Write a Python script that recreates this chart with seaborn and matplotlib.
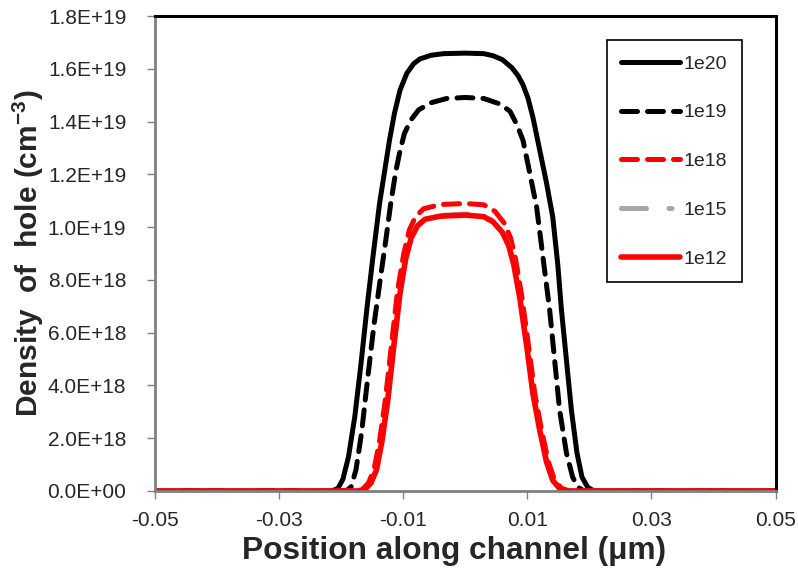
import pandas as pd
import matplotlib
matplotlib.use('Agg')
import matplotlib.pyplot as plt
from matplotlib.ticker import FuncFormatter
import seaborn as sns

sns.set_style('white')
plt.rcParams['font.family'] = ['Liberation Sans', 'DejaVu Sans']
plt.rcParams['mathtext.fontset'] = 'custom'
plt.rcParams['mathtext.rm'] = 'Liberation Sans'
plt.rcParams['mathtext.bf'] = 'Liberation Sans:bold'

# data (y in units of 1e18 cm^-3)
x_1e20 = [-0.05, -0.03, -0.0215, -0.0205, -0.0197, -0.0188, -0.0178, -0.0168, -0.0158, -0.0148,
          -0.0138, -0.013, -0.0122, -0.0114, -0.0105, -0.0094, -0.0083, -0.0073, -0.0055, -0.0035,
          0.0, 0.003, 0.0045, 0.006, 0.0075, 0.0085, 0.0093, 0.0101, 0.0109, 0.012,
          0.0131, 0.0141, 0.0149, 0.0155, 0.0163, 0.0171, 0.018, 0.0188, 0.0197, 0.0205,
          0.022, 0.03, 0.05]
y_1e20 = [0, 0, 0, 0.1, 0.45, 1.3, 2.8, 4.8, 7.0, 9.0,
          10.9, 12.1, 13.3, 14.32, 15.2, 15.84, 16.2, 16.38, 16.52, 16.58,
          16.6, 16.58, 16.5, 16.35, 16.05, 15.75, 15.4, 14.9, 14.17, 12.92,
          11.67, 10.38, 8.6, 6.86, 4.96, 3.07, 1.44, 0.53, 0.15, 0.03,
          0, 0, 0]

x_1e19 = [-0.05, -0.03, -0.0192, -0.0184, -0.0176, -0.0167, -0.0157, -0.0147, -0.0137, -0.0128,
          -0.012, -0.0112, -0.0105, -0.0098, -0.0088, -0.0075, -0.0055, -0.003, 0.0, 0.003,
          0.0055, 0.0072, 0.0083, 0.0093, 0.0104, 0.0115, 0.0125, 0.0136, 0.0144, 0.0152,
          0.0163, 0.0173, 0.0181, 0.019, 0.02, 0.03, 0.05]
y_1e19 = [0, 0, 0, 0.15, 0.8, 2.2, 4.3, 6.3, 8.0, 9.5,
          10.9, 12.1, 12.9, 13.55, 14.05, 14.45, 14.72, 14.88, 14.92, 14.88,
          14.68, 14.4, 13.9, 13.3, 12.05, 10.76, 8.9, 6.86, 4.96, 3.07,
          1.44, 0.53, 0.15, 0.02, 0, 0, 0]

x_1e18 = [-0.05, -0.03, -0.0178, -0.0166, -0.0156, -0.0147, -0.0138, -0.0129, -0.0119, -0.0109,
          -0.0099, -0.009, -0.008, -0.0067, -0.004, 0.0, 0.003, 0.0048, 0.0063, 0.0073,
          0.0081, 0.0091, 0.0102, 0.0112, 0.0123, 0.0134, 0.0144, 0.0155, 0.0168, 0.03,
          0.05]
y_1e18 = [0, 0, 0, 0.05, 0.3, 0.8, 1.9, 3.4, 5.5, 7.6,
          9.0, 9.9, 10.4, 10.7, 10.86, 10.9, 10.85, 10.6, 10.15, 9.6,
          8.8, 7.4, 5.5, 3.7, 2.3, 1.1, 0.4, 0.1, 0, 0,
          0]

x_1e15 = [-0.05, -0.03, -0.0175, -0.0162, -0.0152, -0.0143, -0.0134, -0.0125, -0.0115, -0.0105,
          -0.0096, -0.0087, -0.0077, -0.0065, -0.004, 0.0, 0.003, 0.0045, 0.006, 0.007,
          0.0078, 0.0088, 0.0099, 0.0109, 0.012, 0.0131, 0.0141, 0.0152, 0.0165, 0.03,
          0.05]
y_1e15 = [0, 0, 0, 0.05, 0.3, 0.8, 1.9, 3.4, 5.5, 7.5,
          8.8, 9.6, 10.05, 10.32, 10.45, 10.5, 10.44, 10.24, 9.84, 9.34,
          8.64, 7.3, 5.5, 3.7, 2.3, 1.1, 0.4, 0.1, 0, 0,
          0]

x_1e12 = [-0.05, -0.03, -0.0175, -0.0162, -0.0152, -0.0143, -0.0134, -0.0125, -0.0115, -0.0105,
          -0.0096, -0.0087, -0.0077, -0.0065, -0.004, 0.0, 0.003, 0.0045, 0.006, 0.007,
          0.0078, 0.0088, 0.0099, 0.0109, 0.012, 0.0131, 0.0141, 0.0152, 0.0165, 0.03,
          0.05]
y_1e12 = [0, 0, 0, 0.05, 0.3, 0.8, 1.9, 3.4, 5.5, 7.5,
          8.8, 9.6, 10.05, 10.3, 10.42, 10.46, 10.4, 10.2, 9.8, 9.3,
          8.6, 7.3, 5.5, 3.7, 2.3, 1.1, 0.4, 0.1, 0, 0,
          0]

series = [
    ('1e20', x_1e20, y_1e20, 'black', 3.6, None),
    ('1e19', x_1e19, y_1e19, 'black', 3.6, (3.2, 2.0)),
    ('1e18', x_1e18, y_1e18, '#FF0000', 3.6, (3.2, 2.0)),
    ('1e15', x_1e15, y_1e15, '#A6A6A6', 3.6, (5.0, 4.5, 0.6, 4.5)),
    ('1e12', x_1e12, y_1e12, '#FF0000', 4.0, None),
]

fig = plt.figure(figsize=(7.98, 5.79), dpi=100)
ax = fig.add_axes([0.194, 0.152, 0.778, 0.820])

for name, xs, ys, col, lw, dash in series:
    df = pd.DataFrame({'x': xs, 'y': [v * 1e18 for v in ys]})
    sns.lineplot(data=df, x='x', y='y', ax=ax, color=col, linewidth=lw,
                 sort=False, estimator=None, label=name)
    l = ax.lines[-1]
    if dash is not None:
        l.set_dashes(dash)
    l.set_dash_capstyle('round')
    l.set_solid_capstyle('round')
    l.set_solid_joinstyle('round')
    l.set_dash_joinstyle('round')

ax.set_xlim(-0.05, 0.05)
ax.set_ylim(0, 1.8e19)
ax.set_xticks([-0.05, -0.03, -0.01, 0.01, 0.03, 0.05])
ax.set_xticklabels(['-0.05', '-0.03', '-0.01', '0.01', '0.03', '0.05'])
ax.set_yticks([i * 2e18 for i in range(10)])
ax.yaxis.set_major_formatter(FuncFormatter(lambda v, p: '{:.1E}'.format(v)))
ax.tick_params(axis='both', labelsize=15, direction='out', length=5.5, width=1,
               color='#808080', bottom=True, left=True)
ax.tick_params(axis='x', pad=9)
ax.tick_params(axis='y', pad=15)

for side in ['left', 'bottom']:
    ax.spines[side].set_color('#808080')
    ax.spines[side].set_linewidth(2)
for side in ['top', 'right']:
    ax.spines[side].set_color('black')
    ax.spines[side].set_linewidth(2.2)

ax.set_xlabel('Position along channel (\u03bcm)', fontsize=22.8, fontweight='bold')
ax.set_ylabel(r'Density  of  hole (cm$^{\mathbf{-3}}$)', fontsize=21.5, fontweight='bold')
ax.xaxis.set_label_coords(0.482, -0.094)
ax.yaxis.set_label_coords(-0.176, 0.5)

leg = ax.legend(loc='upper right', bbox_to_anchor=(0.945, 0.949), fontsize=14,
                handlelength=3.0, handletextpad=0.2, labelspacing=1.6,
                borderpad=0.75, fancybox=False, framealpha=1, edgecolor='black',
                borderaxespad=0)
leg.get_frame().set_linewidth(1.2)

fig.savefig('out.png', dpi=100)
